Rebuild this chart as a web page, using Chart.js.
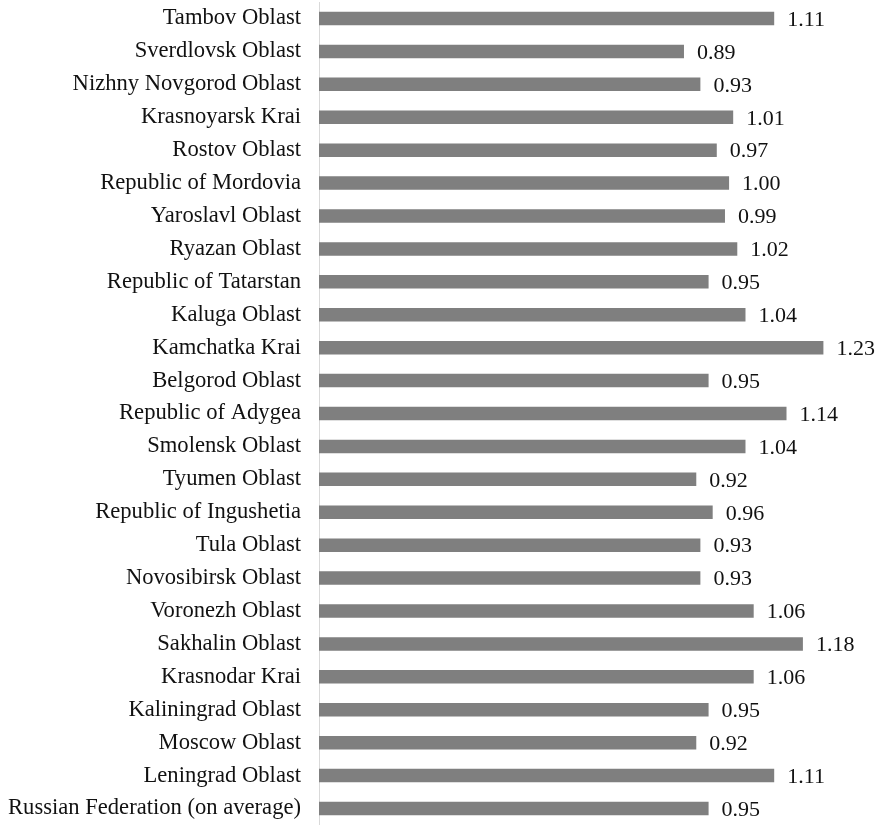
<!DOCTYPE html>
<html>
<head>
<meta charset="utf-8">
<title>Regions</title>
<script src="https://cdn.jsdelivr.net/npm/chart.js@4.4.1/dist/chart.umd.min.js"></script>
<style>
  body { margin: 0; background: #fff; }
  canvas { display: block; }
</style>
</head>
<body>
<canvas id="barChart" width="880" height="825"></canvas>
<script>
// categories, top to bottom as in the picture
const regions = [
  "Tambov Oblast",
  "Sverdlovsk Oblast",
  "Nizhny Novgorod Oblast",
  "Krasnoyarsk Krai",
  "Rostov Oblast",
  "Republic of Mordovia",
  "Yaroslavl Oblast",
  "Ryazan Oblast",
  "Republic of Tatarstan",
  "Kaluga Oblast",
  "Kamchatka Krai",
  "Belgorod Oblast",
  "Republic of Adygea",
  "Smolensk Oblast",
  "Tyumen Oblast",
  "Republic of Ingushetia",
  "Tula Oblast",
  "Novosibirsk Oblast",
  "Voronezh Oblast",
  "Sakhalin Oblast",
  "Krasnodar Krai",
  "Kaliningrad Oblast",
  "Moscow Oblast",
  "Leningrad Oblast",
  "Russian Federation (on average)"
];

const values = [
  1.11, 0.89, 0.93, 1.01, 0.97, 1.00, 0.99, 1.02, 0.95, 1.04,
  1.23, 0.95, 1.14, 1.04, 0.92, 0.96, 0.93, 0.93, 1.06, 1.18,
  1.06, 0.95, 0.92, 1.11, 0.95
];

const serif = "'Liberation Serif', 'Times New Roman', serif";

// writes the value next to the end of each bar
const valueLabels = {
  id: "valueLabels",
  afterDatasetsDraw(chart) {
    const ctx = chart.ctx;
    const meta = chart.getDatasetMeta(0);
    ctx.save();
    ctx.font = "22px " + serif;
    ctx.fillStyle = "#111";
    ctx.textAlign = "left";
    ctx.textBaseline = "middle";
    meta.data.forEach((bar, i) => {
      ctx.fillText(values[i].toFixed(2), bar.x + 13, bar.y + 1.5);
    });
    ctx.restore();
  }
};

const ctx = document.getElementById("barChart").getContext("2d");

new Chart(ctx, {
  type: "bar",
  data: {
    labels: regions,
    datasets: [{
      data: values,
      backgroundColor: "#7f7f7f",
      borderWidth: 0,
      barPercentage: 0.41,
      categoryPercentage: 1
    }]
  },
  options: {
    indexAxis: "y",
    responsive: false,
    animation: false,
    layout: { padding: { top: 2, right: 0, bottom: 0, left: 0 } },
    plugins: {
      legend: { display: false },
      tooltip: { enabled: false }
    },
    scales: {
      x: {
        display: false,
        min: 0,
        max: 1.368
      },
      y: {
        grid: { display: false, drawTicks: false },
        border: { display: true, color: "#d9d9d9", width: 1 },
        ticks: {
          color: "#111",
          padding: 18,
          autoSkip: false,
          font: { family: serif, size: 22.6 }
        },
        afterFit(scale) {
          scale.width = 319;
          scale.paddingTop = 0;
          scale.paddingBottom = 0;
        }
      }
    }
  },
  plugins: [valueLabels]
});
</script>
</body>
</html>
